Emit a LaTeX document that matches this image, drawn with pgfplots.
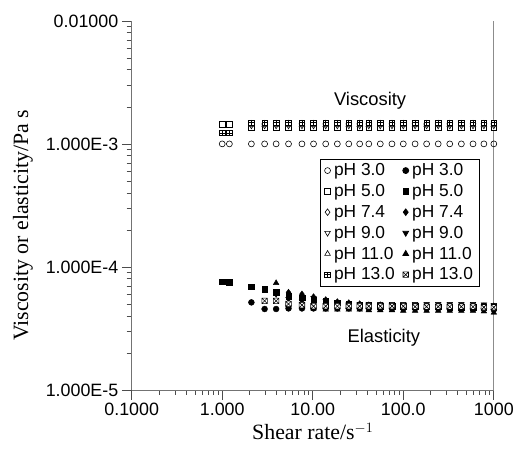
\documentclass[border=0pt]{standalone}
\usepackage{fontspec}
\setmainfont{Liberation Serif}
\setsansfont{Liberation Sans}
\usepackage{pgfplots}
\usepackage{pgfplotstable}
\pgfplotsset{compat=1.18}

\pgfdeclareplotmark{boxplus}{%
  \pgfpathrectangle{\pgfqpoint{-\pgfplotmarksize}{-\pgfplotmarksize}}{\pgfqpoint{2\pgfplotmarksize}{2\pgfplotmarksize}}%
  \pgfpathmoveto{\pgfqpoint{-\pgfplotmarksize}{0pt}}\pgfpathlineto{\pgfqpoint{\pgfplotmarksize}{0pt}}%
  \pgfpathmoveto{\pgfqpoint{0pt}{-\pgfplotmarksize}}\pgfpathlineto{\pgfqpoint{0pt}{\pgfplotmarksize}}%
  \pgfusepathqfillstroke}
\pgfdeclareplotmark{boxtimes}{%
  \pgfpathrectangle{\pgfqpoint{-\pgfplotmarksize}{-\pgfplotmarksize}}{\pgfqpoint{2\pgfplotmarksize}{2\pgfplotmarksize}}%
  \pgfpathmoveto{\pgfqpoint{-\pgfplotmarksize}{-\pgfplotmarksize}}\pgfpathlineto{\pgfqpoint{\pgfplotmarksize}{\pgfplotmarksize}}%
  \pgfpathmoveto{\pgfqpoint{-\pgfplotmarksize}{\pgfplotmarksize}}\pgfpathlineto{\pgfqpoint{\pgfplotmarksize}{-\pgfplotmarksize}}%
  \pgfusepathqfillstroke}

\pgfplotstableread{
x     v3      v5      v74     v9      v11     v13     e3       e5       e74      e9       e11      e13
1.0   1.0e-3  1.45e-3 nan     nan     nan     1.23e-3 nan      7.6e-5   nan      nan      nan      nan
1.2   1.0e-3  1.45e-3 nan     nan     nan     1.23e-3 nan      7.5e-5   nan      nan      nan      nan
2.1   1.0e-3  1.37e-3 1.46e-3 1.41e-3 1.43e-3 1.49e-3 5.15e-5  6.9e-5   nan      nan      nan      nan
2.94  1.0e-3  1.37e-3 1.46e-3 1.41e-3 1.43e-3 1.49e-3 4.55e-5  6.6e-5   nan      nan      nan      5.3e-5
3.94  1.0e-3  1.37e-3 1.46e-3 1.41e-3 1.43e-3 1.49e-3 4.55e-5  6.2e-5   nan      6.0e-5   7.4e-5   5.3e-5
5.4   1.0e-3  1.37e-3 1.46e-3 1.41e-3 1.43e-3 1.49e-3 4.6e-5   5.8e-5   6.2e-5   5.5e-5   5.0e-5   5.0e-5
7.6   1.0e-3  1.37e-3 1.46e-3 1.41e-3 1.43e-3 1.49e-3 4.6e-5   5.6e-5   6.0e-5   5.3e-5   4.7e-5   4.9e-5
10.2  1.0e-3  1.37e-3 1.46e-3 1.41e-3 1.43e-3 1.49e-3 4.6e-5   5.4e-5   5.7e-5   5.6e-5   4.6e-5   4.8e-5
13.9  1.0e-3  1.37e-3 1.46e-3 1.41e-3 1.43e-3 1.49e-3 4.6e-5   5.3e-5   5.4e-5   5.3e-5   4.5e-5   4.8e-5
18.7  1.0e-3  1.37e-3 1.46e-3 1.41e-3 1.43e-3 1.49e-3 4.6e-5   5.1e-5   5.2e-5   5.1e-5   4.5e-5   4.8e-5
25    1.0e-3  1.37e-3 1.46e-3 1.41e-3 1.43e-3 1.49e-3 4.6e-5   5.0e-5   5.1e-5   5.0e-5   4.5e-5   4.8e-5
33    1.0e-3  1.37e-3 1.46e-3 1.41e-3 1.43e-3 1.49e-3 4.6e-5   4.9e-5   5.0e-5   5.0e-5   4.5e-5   4.8e-5
41.6  1.0e-3  1.37e-3 1.46e-3 1.41e-3 1.43e-3 1.49e-3 4.6e-5   4.9e-5   4.9e-5   5.0e-5   4.45e-5  4.8e-5
55.7  1.0e-3  1.37e-3 1.46e-3 1.41e-3 1.43e-3 1.49e-3 4.6e-5   4.8e-5   4.9e-5   5.0e-5   4.45e-5  4.8e-5
75    1.0e-3  1.37e-3 1.46e-3 1.41e-3 1.43e-3 1.49e-3 4.6e-5   4.8e-5   4.8e-5   5.0e-5   4.45e-5  4.8e-5
100   1.0e-3  1.37e-3 1.46e-3 1.41e-3 1.43e-3 1.49e-3 4.6e-5   4.8e-5   4.8e-5   5.0e-5   4.4e-5   4.8e-5
135   1.0e-3  1.37e-3 1.46e-3 1.41e-3 1.43e-3 1.49e-3 4.6e-5   4.8e-5   4.8e-5   5.0e-5   4.4e-5   4.75e-5
181   1.0e-3  1.37e-3 1.46e-3 1.41e-3 1.43e-3 1.49e-3 4.6e-5   4.75e-5  4.8e-5   5.0e-5   4.4e-5   4.75e-5
243   1.0e-3  1.37e-3 1.46e-3 1.41e-3 1.43e-3 1.49e-3 4.6e-5   4.75e-5  4.8e-5   5.0e-5   4.4e-5   4.75e-5
326   1.0e-3  1.37e-3 1.46e-3 1.41e-3 1.43e-3 1.49e-3 4.6e-5   4.7e-5   4.8e-5   5.0e-5   4.4e-5   4.75e-5
438   1.0e-3  1.37e-3 1.46e-3 1.41e-3 1.43e-3 1.49e-3 4.6e-5   4.7e-5   4.8e-5   5.0e-5   4.4e-5   4.75e-5
589   1.0e-3  1.37e-3 1.46e-3 1.41e-3 1.43e-3 1.49e-3 4.6e-5   4.7e-5   4.8e-5   5.0e-5   4.4e-5   4.75e-5
777   1.0e-3  1.37e-3 1.46e-3 1.41e-3 1.43e-3 1.49e-3 4.6e-5   4.7e-5   4.8e-5   4.95e-5  4.35e-5  4.7e-5
1000  1.0e-3  1.37e-3 1.46e-3 1.41e-3 1.43e-3 1.49e-3 4.5e-5   4.7e-5   4.8e-5   4.9e-5   4.25e-5  4.7e-5
}\data

\begin{document}
\begin{tikzpicture}
\begin{axis}[
  xmode=log, ymode=log,
  scale only axis,
  width=365pt, height=372pt,
  xmin=0.1, xmax=1000, ymin=1e-5, ymax=1e-2,
  axis x line*=bottom, axis y line*=left,
  axis line style={-, black!55, line width=0.8pt},
  tick align=outside,
  major tick length=10pt, minor tick length=5pt,
  every tick/.style={black!70, line width=0.7pt},
  xtick={0.1,1,10,100,1000},
  xticklabels={0.1000,1.000,10.00,100.0,1000},
  ytick={1e-5,1e-4,1e-3,1e-2},
  yticklabels={1.000E-5,1.000E-4,1.000E-3,0.01000},
  ticklabel style={font=\sffamily\fontsize{18}{20}\selectfont},
  xlabel={Shear rate/s$^{-1}$},
  label style={font=\fontsize{22}{24}\selectfont},
  clip=false,
  legend columns=2,
  legend style={at={(rel axis cs:0.96,0.626)}, anchor=north east,
    draw=black, line width=0.8pt, font=\sffamily\fontsize{17.5}{19}\selectfont,
    inner xsep=4pt, inner ysep=2.5pt, row sep=3.3pt,
    /tikz/every odd column/.append style={column sep=1.5pt},
    /tikz/every even column/.append style={column sep=6pt}},
  legend cell align=left,
  legend image code/.code={\draw[mark repeat=2,mark phase=2,#1] plot coordinates {(-3pt,0pt)(0pt,0pt)(3pt,0pt)};},
]
% pH 3.0
\addplot[only marks, mark=o, mark size=3pt, mark options={fill=white, line width=0.6pt}] table[x=x,y=v3]{\data};
\addlegendentry{pH 3.0}
\addplot[only marks, mark=*, mark size=3pt] table[x=x,y=e3]{\data};
\addlegendentry{pH 3.0}
% pH 5.0
\addplot[only marks, mark=square*, mark size=2.8pt, mark options={fill=white, line width=0.6pt}] table[x=x,y=v5]{\data};
\addlegendentry{pH 5.0}
\addplot[only marks, mark=square*, mark size=2.8pt] table[x=x,y=e5]{\data};
\addlegendentry{pH 5.0}
% pH 7.4
\addplot[only marks, mark=diamond*, mark size=3.3pt, mark options={fill=white, line width=0.6pt}] table[x=x,y=v74]{\data};
\addlegendentry{pH 7.4}
\addplot[only marks, mark=diamond*, mark size=3.3pt] table[x=x,y=e74]{\data};
\addlegendentry{pH 7.4}
% pH 9.0
\addplot[only marks, mark=triangle*, mark size=3.3pt, mark options={rotate=180, fill=white, line width=0.6pt}] table[x=x,y=v9]{\data};
\addlegendentry{pH 9.0}
\addplot[only marks, mark=triangle*, mark size=3.3pt, mark options={rotate=180}] table[x=x,y=e9]{\data};
\addlegendentry{pH 9.0}
% pH 11.0
\addplot[only marks, mark=triangle*, mark size=3.3pt, mark options={fill=white, line width=0.6pt}] table[x=x,y=v11]{\data};
\addlegendentry{pH 11.0}
\addplot[only marks, mark=triangle*, mark size=3.3pt] table[x=x,y=e11]{\data};
\addlegendentry{pH 11.0}
% pH 13.0
\addplot[only marks, mark=boxplus, mark size=2.8pt, mark options={fill=white, line width=0.6pt}] table[x=x,y=v13]{\data};
\addlegendentry{pH 13.0}
\addplot[only marks, mark=boxtimes, mark size=2.8pt, mark options={fill=white, line width=0.6pt}] table[x=x,y=e13]{\data};
\addlegendentry{pH 13.0}

\draw[black!45, line width=0.8pt] (rel axis cs:1,0) -- (rel axis cs:1,1);
\node[font=\sffamily\fontsize{18.5}{20}\selectfont] at (axis cs:43,2.23e-3) {Viscosity};
\node[font=\sffamily\fontsize{18.5}{20}\selectfont] at (axis cs:61,2.67e-5) {Elasticity};
\node[rotate=90, font=\fontsize{22}{24}\selectfont] at (rel axis cs:-0.3005,0.446) {Viscosity or elasticity/Pa s};
\path (rel axis cs:-0.3636,-0.1774) rectangle (rel axis cs:1.0529,1.0565);
\end{axis}
\end{tikzpicture}
\end{document}
